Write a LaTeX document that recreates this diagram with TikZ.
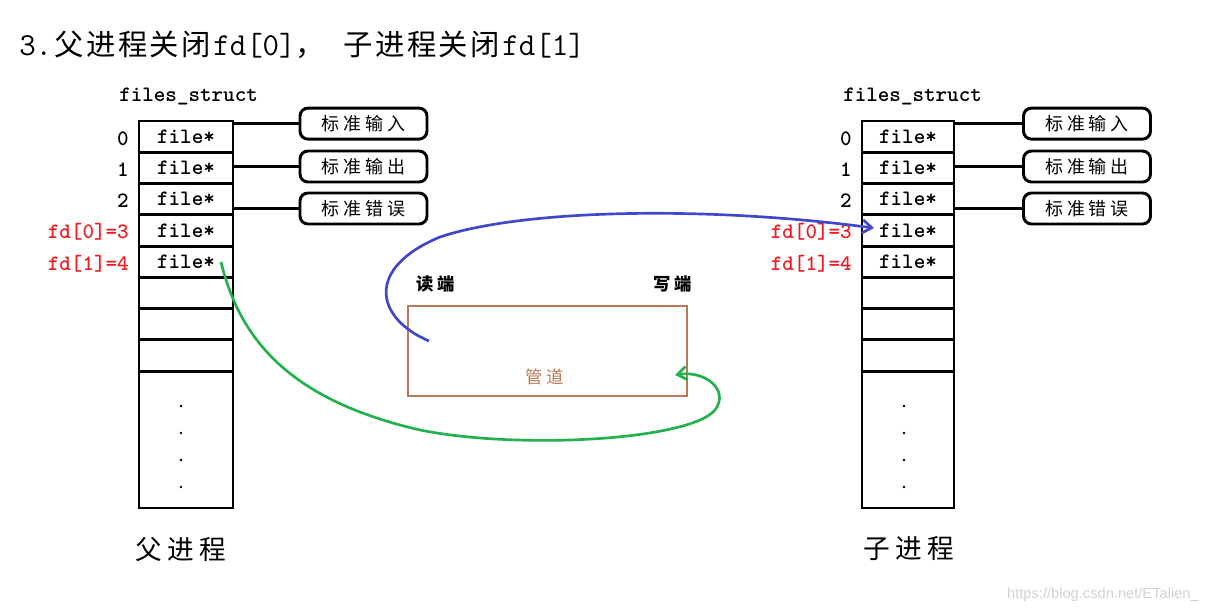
\documentclass[tikz,border=0pt]{standalone}
\usepackage{fontspec}
\newfontfamily\cjk{Noto Sans CJK SC}
\newfontfamily\wmfont{Liberation Sans}
\usetikzlibrary{arrows.meta}
\definecolor{pipec}{RGB}{185,122,87}
\definecolor{bluec}{RGB}{63,72,204}
\definecolor{greenc}{RGB}{34,177,76}
\definecolor{redc}{RGB}{237,28,36}
\newcommand\kk{\kern3pt}
\newcommand\kb{\kern4pt}
\newcommand\kt{\kern1.8pt}
\newcommand\tl[1]{{\ttfamily\fontsize{24}{24}\selectfont #1}}
\begin{document}
\begin{tikzpicture}[x=0.75pt,y=-0.75pt,
  cellbox/.style={draw,line width=2.2pt,minimum width=70.5pt,minimum height=23.44pt,inner sep=0pt,
    font=\ttfamily\bfseries\fontsize{16.5}{16.5}\selectfont},
  rcellbox/.style={cellbox,minimum width=69pt},
  idx/.style={anchor=east,inner sep=0pt,font=\ttfamily\bfseries\fontsize{16.5}{16.5}\selectfont},
  fdlab/.style={idx,text=redc},
  stdbox/.style={draw,line width=2.2pt,rounded corners=6pt,minimum width=95.25pt,minimum height=23.25pt,
    inner sep=0pt,font=\cjk\fontsize{13.5}{13.5}\selectfont},
  link/.style={line width=2.2pt},
  dotm/.style={fill,circle,inner sep=0pt,minimum size=2.2pt},
  bigl/.style={anchor=west,inner sep=0pt,font=\cjk\fontsize{20}{20}\selectfont},
  endl/.style={inner sep=0pt,font=\cjk\bfseries\fontsize{13}{13}\selectfont},
  sthead/.style={anchor=west,inner sep=0pt,font=\ttfamily\bfseries\fontsize{16.5}{16.5}\selectfont}
]
\useasboundingbox (0,0) rectangle (1208,612);

% title
\node[anchor=west,inner sep=0pt,font=\cjk\fontsize{22}{22}\selectfont] (title) at (19,45)
  {\tl{3.}\kt 父\kt 进\kt 程\kt 关\kt 闭\kt\tl{fd[0]}，\kern14pt 子\kt 进\kt 程\kt 关\kt 闭\kt\tl{fd[1]}};

% ===== left process =====
\node[sthead] (Lhead) at (119,96) {files\_struct};
\node[cellbox] (L0) at (186,136.6) {file*};
\node[cellbox] (L1) at (186,167.9) {file*};
\node[cellbox] (L2) at (186,199.1) {file*};
\node[cellbox] (L3) at (186,230.4) {file*};
\node[cellbox] (L4) at (186,261.6) {file*};
\node[cellbox] (L5) at (186,292.9) {};
\node[cellbox] (L6) at (186,324.1) {};
\node[cellbox] (L7) at (186,355.4) {};
\node[cellbox,minimum height=102.75pt] (Lb) at (186,439.5) {};
\node[dotm] (Ld1) at (181,406) {};
\node[dotm] (Ld2) at (181,433) {};
\node[dotm] (Ld3) at (181,460) {};
\node[dotm] (Ld4) at (181,487) {};

\node[idx] (Li0) at (129,139) {0};
\node[idx] (Li1) at (129,170) {1};
\node[idx] (Li2) at (129,201) {2};
\node[fdlab] (Li3) at (129,232) {fd[0]=3};
\node[fdlab] (Li4) at (129,264) {fd[1]=4};

\node[stdbox] (Ls0) at (363.5,123.6) {标\kk 准\kk 输\kk 入};
\node[stdbox] (Ls1) at (363.5,166.5) {标\kk 准\kk 输\kk 出};
\node[stdbox] (Ls2) at (363.5,208.5) {标\kk 准\kk 错\kk 误};
\draw[link] (L0.east |- Ls0.west) -- (Ls0.west);
\draw[link] (L1.east |- Ls1.west) -- (Ls1.west);
\draw[link] (L2.east |- Ls2.west) -- (Ls2.west);

\node[bigl] (Lname) at (135,549) {父\kb 进\kb 程};

% ===== right process =====
\node[sthead] (Rhead) at (843,96) {files\_struct};
\node[rcellbox] (R0) at (908,136.6) {file*};
\node[rcellbox] (R1) at (908,167.9) {file*};
\node[rcellbox] (R2) at (908,199.1) {file*};
\node[rcellbox] (R3) at (908,230.4) {file*};
\node[rcellbox] (R4) at (908,261.6) {file*};
\node[rcellbox] (R5) at (908,292.9) {};
\node[rcellbox] (R6) at (908,324.1) {};
\node[rcellbox] (R7) at (908,355.4) {};
\node[rcellbox,minimum height=102.75pt] (Rb) at (908,439.5) {};
\node[dotm] (Rd1) at (904,406) {};
\node[dotm] (Rd2) at (904,433) {};
\node[dotm] (Rd3) at (904,460) {};
\node[dotm] (Rd4) at (904,487) {};

\node[idx] (Ri0) at (852,139) {0};
\node[idx] (Ri1) at (852,170) {1};
\node[idx] (Ri2) at (852,201) {2};
\node[fdlab] (Ri3) at (852,232) {fd[0]=3};
\node[fdlab] (Ri4) at (852,264) {fd[1]=4};

\node[stdbox] (Rs0) at (1087,123.6) {标\kk 准\kk 输\kk 入};
\node[stdbox] (Rs1) at (1087,166.5) {标\kk 准\kk 输\kk 出};
\node[stdbox] (Rs2) at (1087,208.5) {标\kk 准\kk 错\kk 误};
\draw[link] (R0.east |- Rs0.west) -- (Rs0.west);
\draw[link] (R1.east |- Rs1.west) -- (Rs1.west);
\draw[link] (R2.east |- Rs2.west) -- (Rs2.west);

\node[bigl] (Rname) at (863,549) {子\kb 进\kb 程};

% ===== pipe =====
\node[draw=pipec,line width=2.2pt,minimum width=209.25pt,minimum height=67.5pt,inner sep=0pt] (pipe) at (547.5,351) {};
\node[inner sep=0pt,text=pipec,font=\cjk\fontsize{13}{13}\selectfont] (pipename) at (545,377) {管\kk 道};
\node[endl] (rd) at (436,284) {读\kk 端};
\node[endl] (wr) at (673,284) {写\kk 端};

% ===== arrows =====
\coordinate (bstart) at (429,341);
\coordinate (bend) at (874,228);
\draw[bluec,line width=2pt,-{Straight Barb[length=7pt,width=10pt,line width=2pt]}]
  (bstart) .. controls (375,318) and (365,268) .. (440,237)
           .. controls (520,210) and (700,205) .. (bend);

\coordinate (gstart) at (221,262);
\coordinate (gend) at (675,375);
\draw[greenc,line width=2pt,-{Straight Barb[length=7pt,width=10pt,line width=2pt]}]
  (gstart) .. controls (240,340) and (290,400) .. (420,430)
           .. controls (520,450) and (690,440) .. (715,410)
           .. controls (730,390) and (705,370) .. (gend);

% watermark
\node[anchor=east,inner sep=0pt,text=black!18,font=\wmfont\fontsize{11}{11}\selectfont] (wm) at (1199,595) {https://blog.csdn.net/ETalien\_};
\end{tikzpicture}
\end{document}
